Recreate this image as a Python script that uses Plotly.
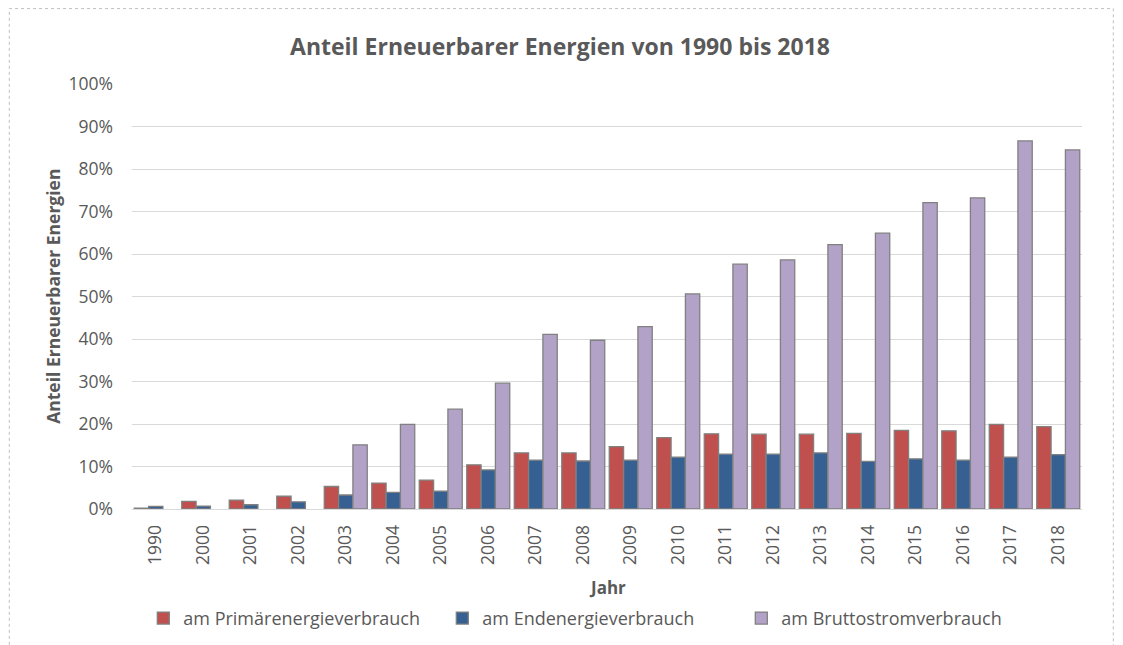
import plotly.graph_objects as go

# Jahre und Anteile (in %)
jahre = ["1990", "2000", "2001", "2002", "2003", "2004", "2005", "2006", "2007", "2008",
         "2009", "2010", "2011", "2012", "2013", "2014", "2015", "2016", "2017", "2018"]
primaer = [0.2, 1.8, 2.1, 3.0, 5.3, 6.1, 6.8, 10.4, 13.2, 13.2,
           14.7, 16.8, 17.7, 17.6, 17.6, 17.8, 18.5, 18.4, 19.9, 19.4]
ende = [0.6, 0.7, 1.0, 1.7, 3.3, 3.9, 4.2, 9.2, 11.5, 11.3,
        11.5, 12.2, 12.9, 12.9, 13.2, 11.2, 11.8, 11.5, 12.2, 12.8]
brutto = [None, None, None, None, 15.1, 19.9, 23.5, 29.6, 41.1, 39.7,
          42.9, 50.6, 57.6, 58.6, 62.2, 64.9, 72.1, 73.2, 86.6, 84.5]
yticks = [0, 10, 20, 30, 40, 50, 60, 70, 80, 90, 100]

FONT = "Open Sans, Liberation Sans, sans-serif"
GREY = "#595959"

# die Seite hat 8px Rand, daher etwas kleiner
W, H = 1115, 637
PLOT_W, PLOT_H = 950, 425.5
LEFT, BOTTOM = 131.7, 509.5   # Lage der Zeichenfläche im Fenster

fig = go.Figure()

series = [
    ("am Primärenergieverbrauch", primaer, "#C0504D"),
    ("am Endenergieverbrauch", ende, "#366092"),
    ("am Bruttostromverbrauch", brutto, "#B2A2C7"),
]
for name, vals, col in series:
    fig.add_trace(go.Bar(
        x=jahre, y=[None if v is None else v / 100 for v in vals],
        name=name,
        marker=dict(color=col, line=dict(color="#808080", width=1.3)),
    ))

fig.update_layout(
    width=W, height=H,
    margin=dict(l=LEFT - 8, r=W - (LEFT - 8) - PLOT_W, t=76, b=H - (BOTTOM - 8),
                autoexpand=False),
    paper_bgcolor="white", plot_bgcolor="white",
    barmode="group", bargap=0.095, bargroupgap=0,
    font=dict(family=FONT, color=GREY, size=17),
    title=dict(
        text="<b>Anteil Erneuerbarer Energien von 1990 bis 2018</b>",
        x=(560 - 8) / W, xanchor="center", xref="container",
        y=1 - 39 / H, yanchor="middle", yref="container",
        font=dict(size=23, color=GREY, family=FONT),
    ),
    showlegend=True,
    legend=dict(
        orientation="h", x=0.484, xanchor="center",
        y=-(619 - BOTTOM) / PLOT_H, yanchor="middle",
        font=dict(size=18, color=GREY), entrywidth=254,
        itemclick=False,
    ),
)

fig.update_yaxes(
    range=[0, 1.0], tickvals=[t / 100 for t in yticks],
    ticktext=[f"{t}%" for t in yticks],
    showgrid=True, gridcolor="#D9D9D9", gridwidth=1,
    zeroline=False, showline=False, ticks="",
    ticklabelstandoff=18,
    tickfont=dict(size=17.5, color=GREY),
)
fig.update_xaxes(
    type="category", tickangle=-90,
    showline=True, linecolor="#D9D9D9", linewidth=1,
    showgrid=False, ticks="", ticklabelstandoff=8,
    tickfont=dict(size=17.5, color=GREY),
)

# Achsentitel
fig.add_annotation(
    text="<b>Anteil Erneuerbarer Energien</b>", textangle=-90,
    xref="paper", yref="paper", x=(52 - LEFT) / PLOT_W, y=0.5,
    xanchor="center", yanchor="middle", showarrow=False,
    font=dict(size=17.5, color=GREY),
)
fig.add_annotation(
    text="<b>Jahr</b>",
    xref="paper", yref="paper", x=0.5, y=(BOTTOM - 588) / PLOT_H,
    xanchor="center", yanchor="middle", showarrow=False,
    font=dict(size=17, color=GREY),
)

# gepunkteter Rahmen des Diagrammbereichs
fig.add_shape(
    type="rect", xref="paper", yref="paper",
    x0=(9 - LEFT) / PLOT_W, x1=(1113 - LEFT) / PLOT_W,
    y0=(BOTTOM - 660) / PLOT_H, y1=(BOTTOM - 8.5) / PLOT_H,
    line=dict(color="#BFBFBF", width=1, dash="dot"), layer="below",
)

fig.write_html("out.html")
